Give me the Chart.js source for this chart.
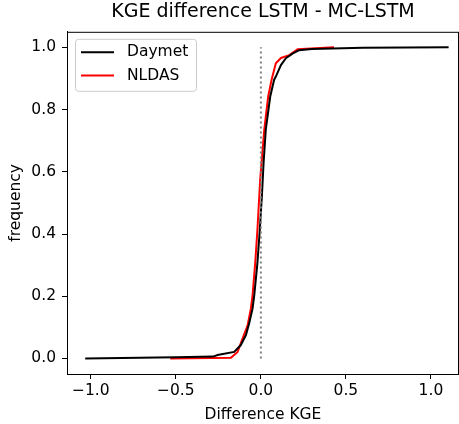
<!DOCTYPE html>
<html>
<head>
<meta charset="utf-8">
<script src="https://cdn.jsdelivr.net/npm/chart.js@4/dist/chart.umd.min.js"></script>
<style>
html,body{margin:0;padding:0;background:#fff;}
canvas{display:block;}
</style>
</head>
<body>
<canvas id="c" width="459" height="424"></canvas>
<script>
const titleText = "KGE difference LSTM - MC-LSTM";
const xLabel = "Difference KGE";
const yLabel = "frequency";
const xTicks = [-1.0, -0.5, 0.0, 0.5, 1.0];
const yTicks = [0.0, 0.2, 0.4, 0.6, 0.8, 1.0];

const daymetX = [-1.033, -0.5, -0.28, -0.255, -0.157, -0.118, -0.088, -0.069, -0.049, -0.039, -0.02, -0.006, 0.006, 0.016, 0.029, 0.055, 0.078, 0.088, 0.118, 0.147, 0.186, 0.225, 0.3, 0.6, 1.104];
const daymetY = [0.0, 0.004, 0.006, 0.011, 0.021, 0.043, 0.075, 0.112, 0.16, 0.203, 0.309, 0.416, 0.522, 0.629, 0.736, 0.842, 0.896, 0.906, 0.943, 0.965, 0.98, 0.991, 0.995, 0.999, 1.0];

const nldasX = [-0.533, -0.176, -0.137, -0.108, -0.078, -0.059, -0.049, -0.033, -0.02, -0.004, 0.02, 0.043, 0.063, 0.088, 0.118, 0.167, 0.216, 0.43];
const nldasY = [0.0, 0.002, 0.021, 0.064, 0.106, 0.16, 0.203, 0.309, 0.416, 0.576, 0.736, 0.842, 0.896, 0.949, 0.966, 0.975, 0.994, 1.0];

const refX = [0, 0];
const refY = [0, 1];

const toPts = (xs, ys) => xs.map((x, i) => ({x: x, y: ys[i]}));
const fmt = v => v.toFixed(1).replace('-', '\u2212');
const FONT = "'DejaVu Sans', sans-serif";
const FS = 15.5;

const framePlugin = {
  id: 'frame',
  afterDatasetsDraw(chart) {
    const {ctx, chartArea: a} = chart;
    ctx.save();
    ctx.strokeStyle = '#000';
    ctx.lineWidth = 1;
    ctx.strokeRect(a.left + 0.5, a.top + 0.5, a.right - a.left - 1, a.bottom - a.top);
    // legend
    const lx = a.left + 8, ly = a.top + 7, lw = 121, lh = 52;
    ctx.fillStyle = 'rgba(255,255,255,0.8)';
    ctx.strokeStyle = '#cccccc';
    ctx.lineWidth = 1;
    ctx.beginPath();
    if (ctx.roundRect) ctx.roundRect(lx + 0.5, ly + 0.5, lw, lh, 3); else ctx.rect(lx + 0.5, ly + 0.5, lw, lh);
    ctx.fill();
    ctx.stroke();
    const items = chart.data.datasets.filter(d => d.inLegend);
    ctx.font = FS + "px " + FONT;
    ctx.textBaseline = 'middle';
    items.forEach((d, i) => {
      const yy = ly + 13.5 + i * 23.3;
      ctx.strokeStyle = d.borderColor;
      ctx.lineWidth = 2;
      ctx.beginPath();
      ctx.moveTo(lx + 6, yy);
      ctx.lineTo(lx + 39, yy);
      ctx.stroke();
      ctx.fillStyle = '#000';
      ctx.fillText(d.label, lx + 52, yy);
    });
    ctx.restore();
  }
};

new Chart(document.getElementById('c'), {
  type: 'line',
  data: {
    datasets: [
      {label: 'ref', data: toPts(refX, refY), borderColor: '#808080', borderWidth: 2, borderDash: [2, 3], pointRadius: 0, inLegend: false},
      {label: 'Daymet', data: toPts(daymetX, daymetY), borderColor: '#000000', borderWidth: 2, pointRadius: 0, tension: 0, inLegend: true},
      {label: 'NLDAS', data: toPts(nldasX, nldasY), borderColor: '#ff0000', borderWidth: 2, pointRadius: 0, tension: 0, inLegend: true}
    ]
  },
  options: {
    responsive: false,
    animation: false,
    devicePixelRatio: 1,
    layout: {padding: 0},
    plugins: {
      legend: {display: false},
      tooltip: {enabled: false},
      title: {display: true, fullSize: false, text: titleText, color: '#000', font: {family: FONT, size: 19, weight: 'normal'}, padding: {top: 1, bottom: 8}}
    },
    scales: {
      x: {
        type: 'linear',
        min: -1.14, max: 1.165,
        afterFit(s) { s.height = 50; },
        afterBuildTicks(s) { s.ticks = xTicks.map(v => ({value: v})); },
        grid: {display: true, drawOnChartArea: false, drawTicks: true, tickLength: 5, tickColor: '#000', tickWidth: 1},
        border: {display: true, color: '#000', width: 1},
        ticks: {color: '#000', padding: 3, font: {family: FONT, size: FS}, callback: v => fmt(v), maxRotation: 0, autoSkip: false},
        title: {display: true, text: xLabel, color: '#000', font: {family: FONT, size: FS}, padding: {top: 0, bottom: 0}}
      },
      y: {
        type: 'linear',
        min: -0.05, max: 1.05,
        afterFit(s) { s.width = 67; },
        afterBuildTicks(s) { s.ticks = yTicks.map(v => ({value: v})); },
        grid: {display: true, drawOnChartArea: false, drawTicks: true, tickLength: 5, tickColor: '#000', tickWidth: 1},
        border: {display: true, color: '#000', width: 1},
        ticks: {color: '#000', padding: 6, font: {family: FONT, size: FS}, callback: v => fmt(v), autoSkip: false},
        title: {display: true, text: yLabel, color: '#000', font: {family: FONT, size: FS}, padding: {top: 6.5, bottom: 0}}
      }
    }
  },
  plugins: [framePlugin]
});
</script>
</body>
</html>
